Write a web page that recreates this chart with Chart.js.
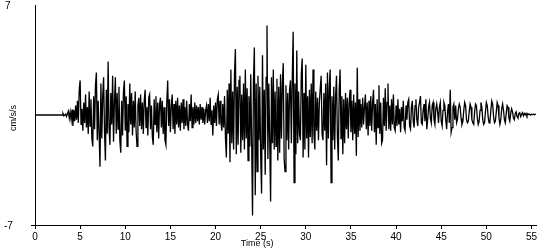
<!DOCTYPE html>
<html>
<head>
<meta charset="utf-8">
<script src="https://cdn.jsdelivr.net/npm/chart.js@4"></script>
<style>
  html, body { margin: 0; padding: 0; background: #fff; }
  #wrap { width: 550px; height: 250px; }
</style>
</head>
<body>
<div id="wrap"><canvas id="chartOne"></canvas></div>
<script>
"use strict";

// sample interval of the record, seconds
let sampleStep = 0.1;

// acceleration (cm/s/s), one row per second, 10 samples each
let acc00 = [
  0, 0, 0, 0, 0, 0, 0, 0, 0, 0,
  0, 0, 0, 0, 0, 0, 0, 0, 0, 0,
  0, 0, 0, 0, 0, 0, 0, 0, 0, 0,
  0, 0.1, -0.05, 0, 0.05, -0.1, 0.1, 0.25, -0.2, 0.2,
  -0.3, 0.35, -0.7, 0.3, -0.4, 0.6, -0.3, 0.9, -0.5, 1.6,
  2.2, -0.6, 0.4, -1.0, 0.8, -0.5, 1.3, -0.8, 0.5, -1.2,
  1.5, -0.7, 1.0, -1.5, -2.0, 1.2, -0.9, 1.9, 2.7, -1.6,
  0.9, -1.2, -3.3, 2.0, -1.5, 1.2, 2.4, -1.0, -2.9, 1.6,
  -1.2, 3.4, -0.8, -1.9, 1.4, -0.6, 2.5, -1.7, 0.8, 2.4,
  -1.2, 1.4, -0.9, 1.8, -1.6, -2.4, 0.9, -1.3, 1.5, 2.2,
];
let acc10 = [
  -1.0, 1.2, -2.0, 0.7, -1.1, 2.0, -0.6, 1.4, -1.3, 0.9,
  -0.8, 1.5, -1.0, -2.0, 0.6, 1.1, -0.7, 1.3, -0.9, 0.8,
  -1.2, 0.9, 1.6, -0.8, 0.5, -1.3, 1.1, 1.3, -0.9, 0.6,
  -1.4, -1.9, 1.0, -0.6, 1.2, -1.1, 0.8, -1.5, 0.7, 1.1,
  -0.8, 0.9, -1.2, 0.5, -1.6, -1.9, 0.8, 2.2, -0.7, 1.0,
  -1.1, 0.6, 1.3, -0.9, 0.7, -1.2, 0.9, -0.6, 1.1, -0.8,
  0.6, -1.0, 0.8, -0.5, 1.0, -0.9, 0.5, -0.7, 0.9, -0.6,
  -1.0, 0.7, -0.4, 1.3, -0.8, 0.5, -0.6, 0.8, -0.5, 0.6,
  -0.4, 0.5, -0.6, 0.7, -0.3, 0.5, -0.5, 0.4, -0.6, 0.3,
  0.6, -0.5, 0.7, -0.4, 1.1, -0.6, 0.3, -1.3, 0.6, -0.5,
];
let acc20 = [
  0.8, -0.7, 1.0, 1.3, -0.6, 0.9, -0.5, -1.0, 0.7, -0.8,
  1.2, -1.5, -2.7, 1.6, -1.2, 2.0, -3.0, 2.9, -1.8, 1.5,
  -2.2, 2.6, 4.2, -2.5, 1.8, -1.9, 2.2, 2.5, -2.4, 1.3,
  -1.6, 2.0, -2.2, 2.9, -1.5, 1.7, -2.9, 1.2, -2.0, 2.6,
  -1.8, -6.4, 2.2, 4.3, -5.1, 2.0, -3.6, 2.5, -1.6, 1.8,
  -2.6, -5.0, 3.8, -2.2, 1.6, -3.8, 2.4, 5.7, -2.8, 2.0,
  -1.6, -5.5, 2.4, -1.8, 2.9, -2.2, 1.5, -2.0, 2.3, -2.9,
  1.8, -2.4, 2.6, -1.5, 2.0, 3.3, -2.8, -3.6, 1.9, -1.6,
  1.4, -2.2, 1.6, 2.2, -1.8, 2.4, 5.3, -4.3, 2.0, -2.5,
  4.1, -1.8, 1.5, -1.2, -1.6, 2.6, 3.6, -2.7, 1.4, -2.2,
];
let acc30 = [
  3.2, -1.5, 1.2, -2.7, 1.6, -1.4, 2.0, -1.8, 2.9, -1.2,
  -2.2, 1.5, -1.0, 1.1, -1.6, 0.8, 1.7, 2.5, -1.2, -1.6,
  1.4, -1.0, 2.0, -3.2, 2.7, -1.5, 1.8, 2.9, -4.3, 1.2,
  -1.6, 1.8, -2.2, 1.2, 2.5, -1.4, -2.9, 1.6, 2.9, -1.5,
  1.2, -2.5, 1.0, -1.8, 1.4, -0.9, 1.1, -1.5, 0.8, 1.6,
  -1.1, 0.9, -1.6, 1.3, -1.2, 0.8, -2.6, 3.0, -1.4, 1.0,
  -1.0, 0.7, -0.8, 1.1, -0.6, 0.5, 1.3, -0.9, 0.8, -1.3,
  0.9, -0.7, 1.2, -1.0, 0.8, 1.6, -1.1, 0.7, -1.9, 1.0,
  -0.8, 1.9, -1.2, 0.8, -1.8, -1.6, 1.1, -0.7, 1.7, -1.0,
  0.8, 2.0, -0.9, 0.6, -1.0, 1.0, -0.6, 1.3, -0.8, -1.0,
];
let acc40 = [
  0.6, -0.7, 1.0, -0.6, 0.4, -1.1, 0.5, -0.4, 0.9, -0.8,
  -1.0, 0.6, -0.3, 0.8, 1.0, -0.7, -0.9, 0.5, 0.9, -0.4,
  -0.8, 0.6, 1.0, -0.3, -0.7, 0.5, 0.8, 1.2, -0.5, -0.6,
  0.3, 0.7, -0.4, 1.0, -0.9, -0.3, 0.5, 0.8, -0.2, -0.5,
  0.6, 0.8, -0.3, -0.6, 0.4, 0.7, 0.2, -0.5, 0.5, 0.8,
  -0.4, -0.7, 0.3, 0.8, 0.6, -0.3, -0.9, 0.2, 0.7, -0.5,
  1.6, -1.1, -0.8, 0.5, 0.7, -0.3, 0.6, -0.5, -0.3, 0.4,
  0.7, 0.5, -0.2, -0.6, -0.4, 0.3, 0.8, 0.6, -0.3, -0.5,
  -0.4, 0.2, 0.7, 0.5, -0.3, -0.5, -0.6, 0.2, 0.7, 0.6,
  -0.2, -0.6, -0.4, 0.3, 0.8, 0.5, -0.3, -0.6, -0.5, 0.2,
];
let acc50 = [
  0.8, 0.6, -0.1, -0.5, -0.4, 0.3, 0.9, 0.7, -0.1, -0.5,
  -0.4, 0.2, 0.8, 0.6, -0.2, -0.6, -0.3, 0.4, 0.7, 0.3,
  -0.3, -0.5, 0.1, 0.6, 0.5, -0.2, -0.4, 0.1, 0.4, 0.2,
  -0.2, -0.3, 0.1, 0.2, -0.1, -0.2, 0.1, 0.15, -0.1, 0.05,
  0.15, -0.05, 0.1, 0.0, 0.1, -0.05, 0.08, 0.02, 0.06, 0.0,
  0.05, 0.03, 0.05, 0.02, 0.04, 0.05,
];

let segmentStarts = [0, 10, 20, 30, 40, 50];
let segments = [acc00, acc10, acc20, acc30, acc40, acc50];

let timeTicks = [0, 5, 10, 15, 20, 25, 30, 35, 40, 45, 50, 55];
let yLimits = [-7, 7];
let timeMax = 55.5;

let points = [];
segments.forEach(function (seg, s) {
  seg.forEach(function (v, i) {
    points.push({ x: +(segmentStarts[s] + i * sampleStep).toFixed(2), y: v });
  });
});

let axisFont = { family: "'Liberation Sans', Arial, sans-serif", size: 10 };

let sideLabels = {
  id: "sideLabels",
  afterDraw: function (chart) {
    let c = chart.ctx;
    let y = chart.scales.y;
    let x = chart.scales.x;
    c.save();
    c.fillStyle = "#000";
    c.font = "10px " + axisFont.family;
    c.textAlign = "left";
    c.textBaseline = "middle";
    c.fillText(String(yLimits[1]), 5, y.getPixelForValue(yLimits[1]) + 1);
    c.fillText(String(yLimits[0]), 4, y.getPixelForValue(yLimits[0]) + 1);
    c.translate(14, y.getPixelForValue(0) + 3);
    c.rotate(-Math.PI / 2);
    c.textAlign = "center";
    c.font = "9px " + axisFont.family;
    c.fillText("cm/s/s", 0, 0);
    c.restore();
    c.save();
    c.fillStyle = "#000";
    c.font = "9px " + axisFont.family;
    c.textAlign = "center";
    c.textBaseline = "middle";
    c.fillText("Time (s)", x.getPixelForValue(24.6), 244);
    c.restore();
  },
};

let ctxOne = document.getElementById("chartOne").getContext("2d");
let chartOne = new Chart(ctxOne, {
  type: "line",
  data: {
    datasets: [
      {
        data: points,
        borderColor: "#000",
        borderWidth: 1.3,
        pointRadius: 0,
        tension: 0,
        fill: false,
      },
    ],
  },
  options: {
    responsive: true,
    maintainAspectRatio: false,
    animation: false,
    events: [],
    layout: { padding: { top: 5, right: 14, left: 0, bottom: 0 } },
    plugins: { legend: { display: false }, tooltip: { enabled: false } },
    scales: {
      x: {
        type: "linear",
        min: 0,
        max: timeMax,
        afterBuildTicks: function (scale) {
          scale.ticks = timeTicks.map(function (v) { return { value: v }; });
        },
        afterFit: function (scale) { scale.height = 25; },
        grid: { drawOnChartArea: false, tickLength: 4, color: "#000" },
        border: { color: "#000", width: 1 },
        ticks: { color: "#000", font: axisFont, padding: 2, maxRotation: 0 },
      },
      y: {
        min: yLimits[0],
        max: yLimits[1],
        afterBuildTicks: function (scale) {
          scale.ticks = [{ value: yLimits[0] }];
        },
        afterFit: function (scale) { scale.width = 35; },
        grid: { drawOnChartArea: false, tickLength: 4, color: "#000" },
        border: { color: "#000", width: 1 },
        ticks: { display: false },
      },
    },
  },
  plugins: [sideLabels],
});
</script>
</body>
</html>
